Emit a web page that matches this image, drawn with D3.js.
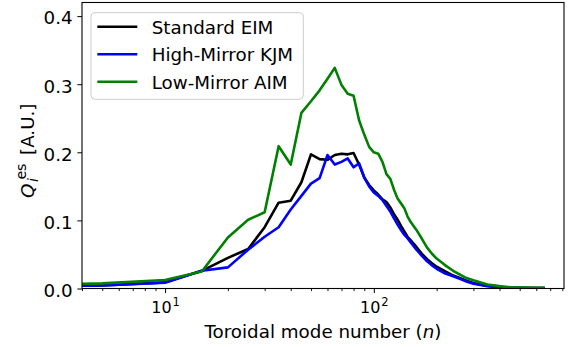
<!DOCTYPE html>
<html>
<head>
<meta charset="utf-8">
<script src="https://cdn.jsdelivr.net/npm/d3@7"></script>
<style>
  body { margin: 0; background: #fff; }
  svg { display: block; }
  text { font-family: "DejaVu Sans", sans-serif; fill: #000; }
</style>
</head>
<body>
<svg id="chart" width="574" height="347"></svg>
<script>
// Toroidal mode numbers and ion electrostatic heat flux spectra
const nModes = [4, 5, 10, 15, 20, 25, 30, 35, 40, 45, 50, 55, 60, 65, 70, 75, 80, 85, 90, 95,
  100, 105, 110, 115, 120, 125, 130, 135, 140, 145, 150, 160, 170, 180, 190, 200,
  220, 240, 260, 280, 300, 350, 400, 450, 500, 550, 600, 650];

const qStandardEIM = [0.004, 0.0045, 0.009, 0.026, 0.045, 0.058, 0.090, 0.126, 0.129, 0.156, 0.197, 0.190, 0.189, 0.196, 0.198, 0.197, 0.199, 0.182, 0.163, 0.152,
  0.144, 0.138, 0.131, 0.127, 0.119, 0.109, 0.101, 0.092, 0.084, 0.076, 0.071, 0.061, 0.051, 0.043, 0.037, 0.032,
  0.025, 0.019, 0.015, 0.011, 0.008, 0.004, 0.002, 0.0012, 0.001, 0.0008, 0.0007, 0.0007];

const qHighMirrorKJM = [0.004, 0.0045, 0.0085, 0.026, 0.031, 0.057, 0.076, 0.090, 0.116, 0.136, 0.154, 0.162, 0.196, 0.182, 0.186, 0.191, 0.178, 0.184, 0.163, 0.150,
  0.141, 0.136, 0.130, 0.121, 0.113, 0.103, 0.094, 0.086, 0.079, 0.074, 0.068, 0.057, 0.048, 0.040, 0.034, 0.029,
  0.022, 0.018, 0.014, 0.010, 0.007, 0.0035, 0.0015, 0.001, 0.0008, 0.0007, 0.0006, 0.0006];

const qLowMirrorAIM = [0.007, 0.0075, 0.0125, 0.025, 0.075, 0.101, 0.112, 0.209, 0.182, 0.258, 0.275, 0.291, 0.308, 0.324, 0.299, 0.286, 0.283, 0.247, 0.226, 0.208,
  0.200, 0.198, 0.186, 0.168, 0.161, 0.145, 0.132, 0.125, 0.118, 0.106, 0.098, 0.086, 0.073, 0.060, 0.051, 0.044,
  0.034, 0.026, 0.020, 0.015, 0.012, 0.006, 0.0035, 0.0018, 0.0015, 0.0013, 0.0012, 0.0012];

const seriesNames = ["Standard EIM", "High-Mirror KJM", "Low-Mirror AIM"];
const seriesColors = ["#000000", "#0000ff", "#008000"];
const seriesValues = [qStandardEIM, qHighMirrorKJM, qLowMirrorAIM];

const yTickValues = [0, 0.1, 0.2, 0.3, 0.4];
const xMajorTicks = [10, 100];
const xDomain = [4, 815];
const yDomain = [0, 0.42];

// ---- layout ----
const width = 574, height = 347;
const plot = { left: 82, right: 564, top: 2.5, bottom: 288.5 };
const fontSize = 18.3;
const lineWidth = 2.6;

const svg = d3.select("#chart");
svg.append("rect").attr("width", width).attr("height", height).attr("fill", "#fff");

const x = d3.scaleLog().domain(xDomain).range([plot.left, plot.right]);
const y = d3.scaleLinear().domain(yDomain).range([plot.bottom, plot.top]);

svg.append("defs").append("clipPath").attr("id", "plot-clip")
  .append("rect")
  .attr("x", plot.left).attr("y", plot.top)
  .attr("width", plot.right - plot.left).attr("height", plot.bottom - plot.top);

// ---- spectra ----
const line = d3.line().x(d => x(d[0])).y(d => y(d[1]));
const lines = svg.append("g").attr("clip-path", "url(#plot-clip)");
seriesValues.forEach((vals, i) => {
  lines.append("path")
    .datum(nModes.map((n, j) => [n, vals[j]]))
    .attr("d", line)
    .attr("fill", "none")
    .attr("stroke", seriesColors[i])
    .attr("stroke-width", lineWidth)
    .attr("stroke-linejoin", "round")
    .attr("stroke-linecap", "square");
});

// ---- axes ----
const yAxis = svg.append("g")
  .attr("transform", `translate(${plot.left},0)`)
  .call(d3.axisLeft(y).tickValues(yTickValues).tickFormat(d3.format(".1f")).tickSize(4.6).tickPadding(4.8));
yAxis.select(".domain").remove();
yAxis.attr("font-family", "DejaVu Sans").attr("font-size", fontSize);
yAxis.selectAll("line").attr("stroke", "#000").attr("stroke-width", 1);
yAxis.selectAll("text").attr("dy", "0.43em").attr("fill", "#000");

// minor log ticks
const minorTicks = [];
[1, 10, 100].forEach(dec => {
  for (let k = 2; k <= 9; k++) {
    const v = dec * k;
    if (v >= xDomain[0] && v <= xDomain[1]) minorTicks.push(v);
  }
});
const xMinor = svg.append("g")
  .attr("transform", `translate(0,${plot.bottom})`)
  .call(d3.axisBottom(x).tickValues(minorTicks).tickFormat("").tickSize(2.6));
xMinor.select(".domain").remove();
xMinor.selectAll("line").attr("stroke", "#000").attr("stroke-width", 0.9);

const xMajor = svg.append("g")
  .attr("transform", `translate(0,${plot.bottom})`)
  .call(d3.axisBottom(x).tickValues(xMajorTicks).tickSize(4.6));
xMajor.select(".domain").remove();
xMajor.selectAll("line").attr("stroke", "#000").attr("stroke-width", 1);
xMajor.selectAll("text").each(function(d) {
  const t = d3.select(this);
  t.text("").attr("y", 24.5).attr("dy", null).attr("fill", "#000")
    .attr("font-family", "DejaVu Sans").attr("font-size", 16);
  t.append("tspan").text("10");
  t.append("tspan").attr("font-size", 11.5).attr("dy", -7).attr("dx", 1)
    .text(String(Math.round(Math.log10(d))));
});

// spines
svg.append("rect")
  .attr("x", plot.left).attr("y", plot.top)
  .attr("width", plot.right - plot.left).attr("height", plot.bottom - plot.top)
  .attr("fill", "none").attr("stroke", "#000").attr("stroke-width", 1.1);

// ---- axis labels ----
const xLabel = svg.append("text")
  .attr("x", (plot.left + plot.right) / 2).attr("y", 337.5)
  .attr("text-anchor", "middle").attr("font-size", fontSize);
xLabel.append("tspan").text("Toroidal mode number (");
xLabel.append("tspan").attr("font-style", "italic").text("n");
xLabel.append("tspan").text(")");

// Q_i^{es} [A.U.] rotated along the left edge
const yLab = svg.append("g").attr("transform", "translate(33.5,198) rotate(-90)");
const qText = yLab.append("text").attr("x", 0).attr("y", 0)
  .attr("font-size", fontSize).attr("font-style", "italic").text("Q");
const qW = qText.node().getComputedTextLength();
const supText = yLab.append("text").attr("x", qW + 4).attr("y", -7.5)
  .attr("font-size", 14.2).text("es");
const supEnd = qW + 4 + supText.node().getComputedTextLength();
yLab.append("text").attr("x", qW + 1.5).attr("y", 4.5)
  .attr("font-size", 14.2).attr("font-style", "italic").text("i");
yLab.append("text").attr("x", supEnd + 8.5).attr("y", 0)
  .attr("font-size", fontSize).text("[A.U.]");

// ---- legend ----
const legend = { x: 91, y: 12.7, w: 212.3, h: 86.6, row: 27.5, firstRow: 14, lineX: 6.3, lineLen: 40, textX: 60.7 };
const lg = svg.append("g").attr("transform", `translate(${legend.x},${legend.y})`);
lg.append("rect")
  .attr("width", legend.w).attr("height", legend.h).attr("rx", 4)
  .attr("fill", "#fff").attr("fill-opacity", 0.8)
  .attr("stroke", "#cccccc").attr("stroke-width", 1);
seriesNames.forEach((name, i) => {
  const cy = legend.firstRow + i * legend.row;
  lg.append("line")
    .attr("x1", legend.lineX).attr("x2", legend.lineX + legend.lineLen)
    .attr("y1", cy).attr("y2", cy)
    .attr("stroke", seriesColors[i]).attr("stroke-width", lineWidth);
  lg.append("text").attr("x", legend.textX).attr("y", cy + 7.2)
    .attr("font-size", fontSize).text(name);
});
</script>
</body>
</html>
